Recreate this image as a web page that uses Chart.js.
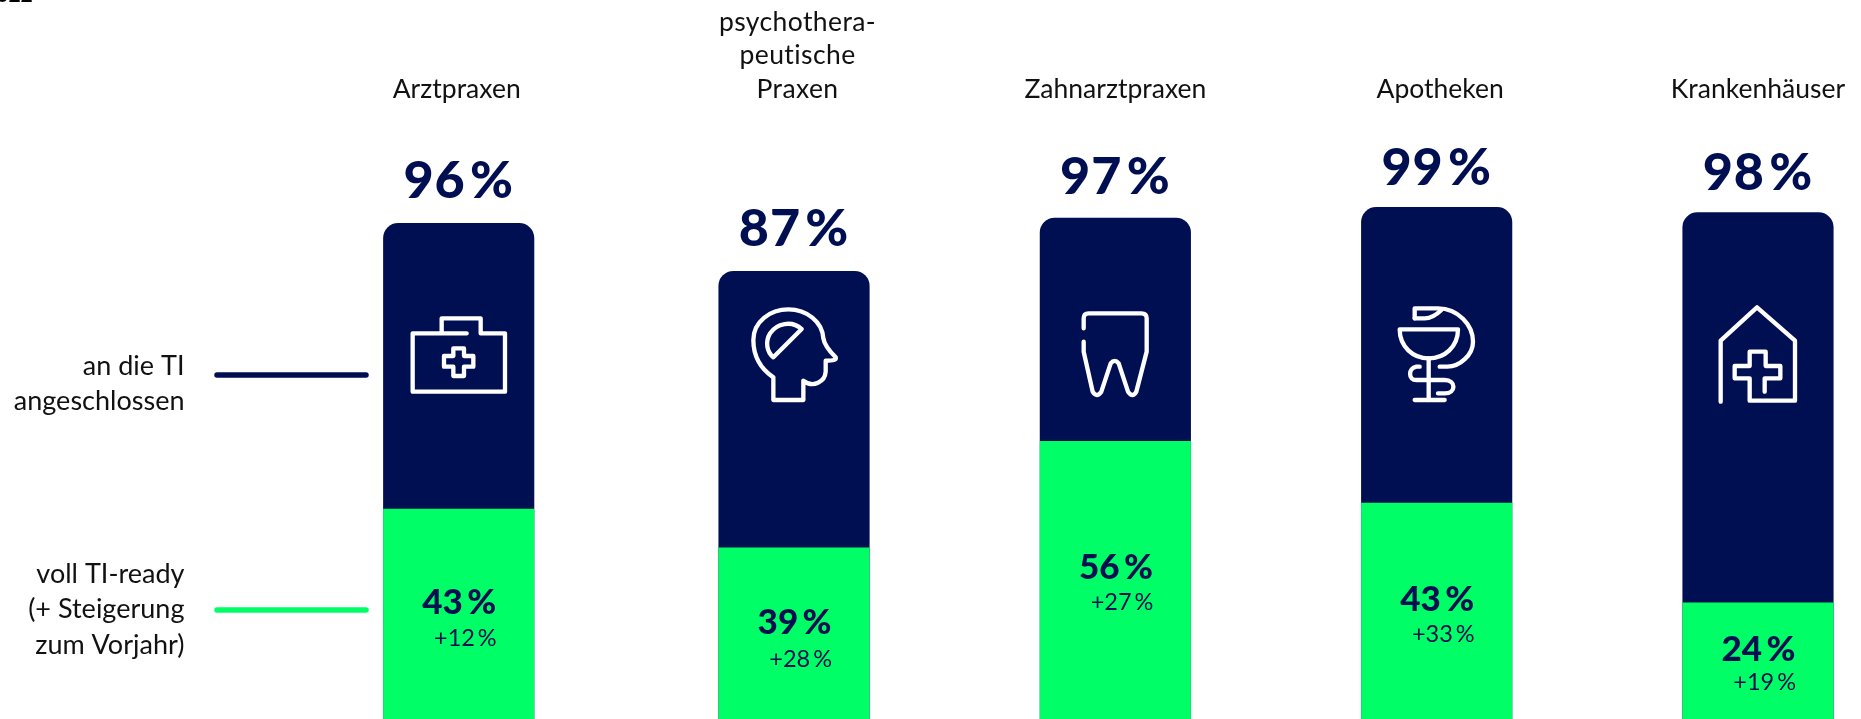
<!DOCTYPE html>
<html lang="de"><head><meta charset="utf-8">
<style>html,body{margin:0;padding:0;background:#fff;overflow:hidden}canvas{display:block}</style>
<script src="https://cdn.jsdelivr.net/npm/chart.js@4"></script></head>
<body><canvas id="c" width="1861" height="719"></canvas>
<script>
const categories = ["Arztpraxen","psychotherapeutische Praxen","Zahnarztpraxen","Apotheken","Krankenhäuser"];
const categoryLines = [["Arztpraxen"],["psychothera-","peutische","Praxen"],["Zahnarztpraxen"],["Apotheken"],["Krankenhäuser"]];
const connectedValues = [96,87,97,99,98];
const readyBarHeights = [42.4,35.1,55.1,43.5,24.8];
const readyLabels = [43,39,56,43,24];
const increaseLabels = [12,28,27,33,19];
const NAVY = "#000E52", GREEN = "#00FF66", TEXT = "#111111";
const FONT = '"Lato", sans-serif';
const THIN = "\u2009", HAIR = "\u200A";

const firstBarShift = -14;
const categoryDx = [-2,3.5,0,3.5,0];
const categorySpacing = [0.01,0.4,0.01,0.01,0.01];
const bigBaseline = [198,246,193.5,185,190];
const readyBaseline = [614,634,579,611,661];
const increaseBaseline = [646,667,610,642,690];

const iconPaths = [
 ["M125 100V55H242V100H315V275H38V100H200","M160 145H192V168H220V200H192V228H160V200H132V168H160Z"],
 ["M115 300V232C75 205 55 165 55 120C55 65 105 28 160 28C215 28 262 65 265 115C268 135 285 155 302 172C305 180 295 182 272 182V215C270 245 235 265 205 242V300Z","M200 87C170 60 125 70 105 100C90 125 95 155 115 172Z"],
 ["M85 85V55Q85 40 100 40H258Q274 40 274 55V155L243 275Q232 295 218 275L190 190Q178 175 166 190L138 275Q124 295 112 275L85 155V125"],
 ["M75 88H250C250 140 210 175 162 175C115 175 75 140 75 88Z","M162 175V300","M120 300H210","M120 55V25H190C250 25 295 75 295 125C295 165 255 200 218 200H195","M120 55H150C175 55 190 40 200 30","M135 200H125C100 205 100 240 125 240H210C245 240 245 280 210 280H190"],
 ["M68 305V122L177 22L291 122V302H155V235H110V198H155V155H203V198H247V235H200V275"]
];
const iconDx = [-58.7,-59,-60,-62,-60];

function txt(ctx,s,x,y,font,color,align,spacing){ctx.font=font;ctx.letterSpacing=(spacing||0.01)+"px";ctx.fillStyle=color;ctx.textAlign=align||"center";ctx.textBaseline="alphabetic";ctx.fillText(s,x,y);}

const annotate = {
 id:"annotate",
 afterDatasetsUpdate(chart){
  chart.data.datasets.forEach((d,i)=>{const el=chart.getDatasetMeta(i).data[0]; el.x+=firstBarShift;});
 },
 afterDatasetsDraw(chart){
  const ctx=chart.ctx, bars=chart.getDatasetMeta(0).data;
  ctx.save();
  txt(ctx,"2022",-16,2,'700 21px '+FONT,"#000","left");
  bars.forEach((b,i)=>{
    const x=b.x;
    const lines=categoryLines[i];
    lines.forEach((l,k)=>txt(ctx,l,x+categoryDx[i],98-(lines.length-1-k)*33.7,'400 26.5px '+FONT,TEXT,"center",categorySpacing[i]));
    txt(ctx,connectedValues[i]+HAIR+"%",x,bigBaseline[i],'900 52px '+FONT,NAVY,"center",1);
    txt(ctx,readyLabels[i]+THIN+"%",x+37.5,readyBaseline[i],'900 35px '+FONT,NAVY,"right");
    txt(ctx,"+"+increaseLabels[i]+THIN+"%",x+38,increaseBaseline[i],'400 23.5px '+FONT,NAVY,"right");
    ctx.save();
    ctx.translate(x+iconDx[i],300);ctx.scale(1/3,1/3);
    ctx.strokeStyle="#fff";ctx.lineWidth=13;ctx.lineCap="round";ctx.lineJoin="round";
    iconPaths[i].forEach(p=>ctx.stroke(new Path2D(p)));
    ctx.restore();
  });
  [["an die TI",375],["angeschlossen",410],["voll TI-ready",583],["(+ Steigerung",618],["zum Vorjahr)",653.5]].forEach(([s,y])=>txt(ctx,s,184.5,y,'400 27px '+FONT,TEXT,"right"));
  ctx.lineCap="round";ctx.lineWidth=5.5;
  ctx.strokeStyle=NAVY;ctx.beginPath();ctx.moveTo(217,375);ctx.lineTo(366,375);ctx.stroke();
  ctx.strokeStyle=GREEN;ctx.beginPath();ctx.moveTo(217,610);ctx.lineTo(366,610);ctx.stroke();
  ctx.restore();
 }
};

new Chart(document.getElementById("c"),{
 type:"bar",
 data:{labels:categories,datasets:[
  {label:"voll TI-ready",data:readyBarHeights,backgroundColor:GREEN,order:0,clip:false,barThickness:150.5,borderWidth:0},
  {label:"an die TI angeschlossen",data:connectedValues,backgroundColor:NAVY,order:1,clip:false,barThickness:150.5,borderWidth:0,
   borderRadius:{topLeft:15,topRight:15,bottomLeft:0,bottomRight:0},borderSkipped:false}
 ]},
 options:{responsive:false,animation:false,
  layout:{padding:{left:472.7,right:103,top:0,bottom:0}},
  plugins:{legend:{display:false},tooltip:{enabled:false}},
  scales:{
   x:{display:false,stacked:true,offset:false},
   y:{display:false,stacked:false,min:3,max:137.9}
  }},
 plugins:[annotate]
});
</script></body></html>
